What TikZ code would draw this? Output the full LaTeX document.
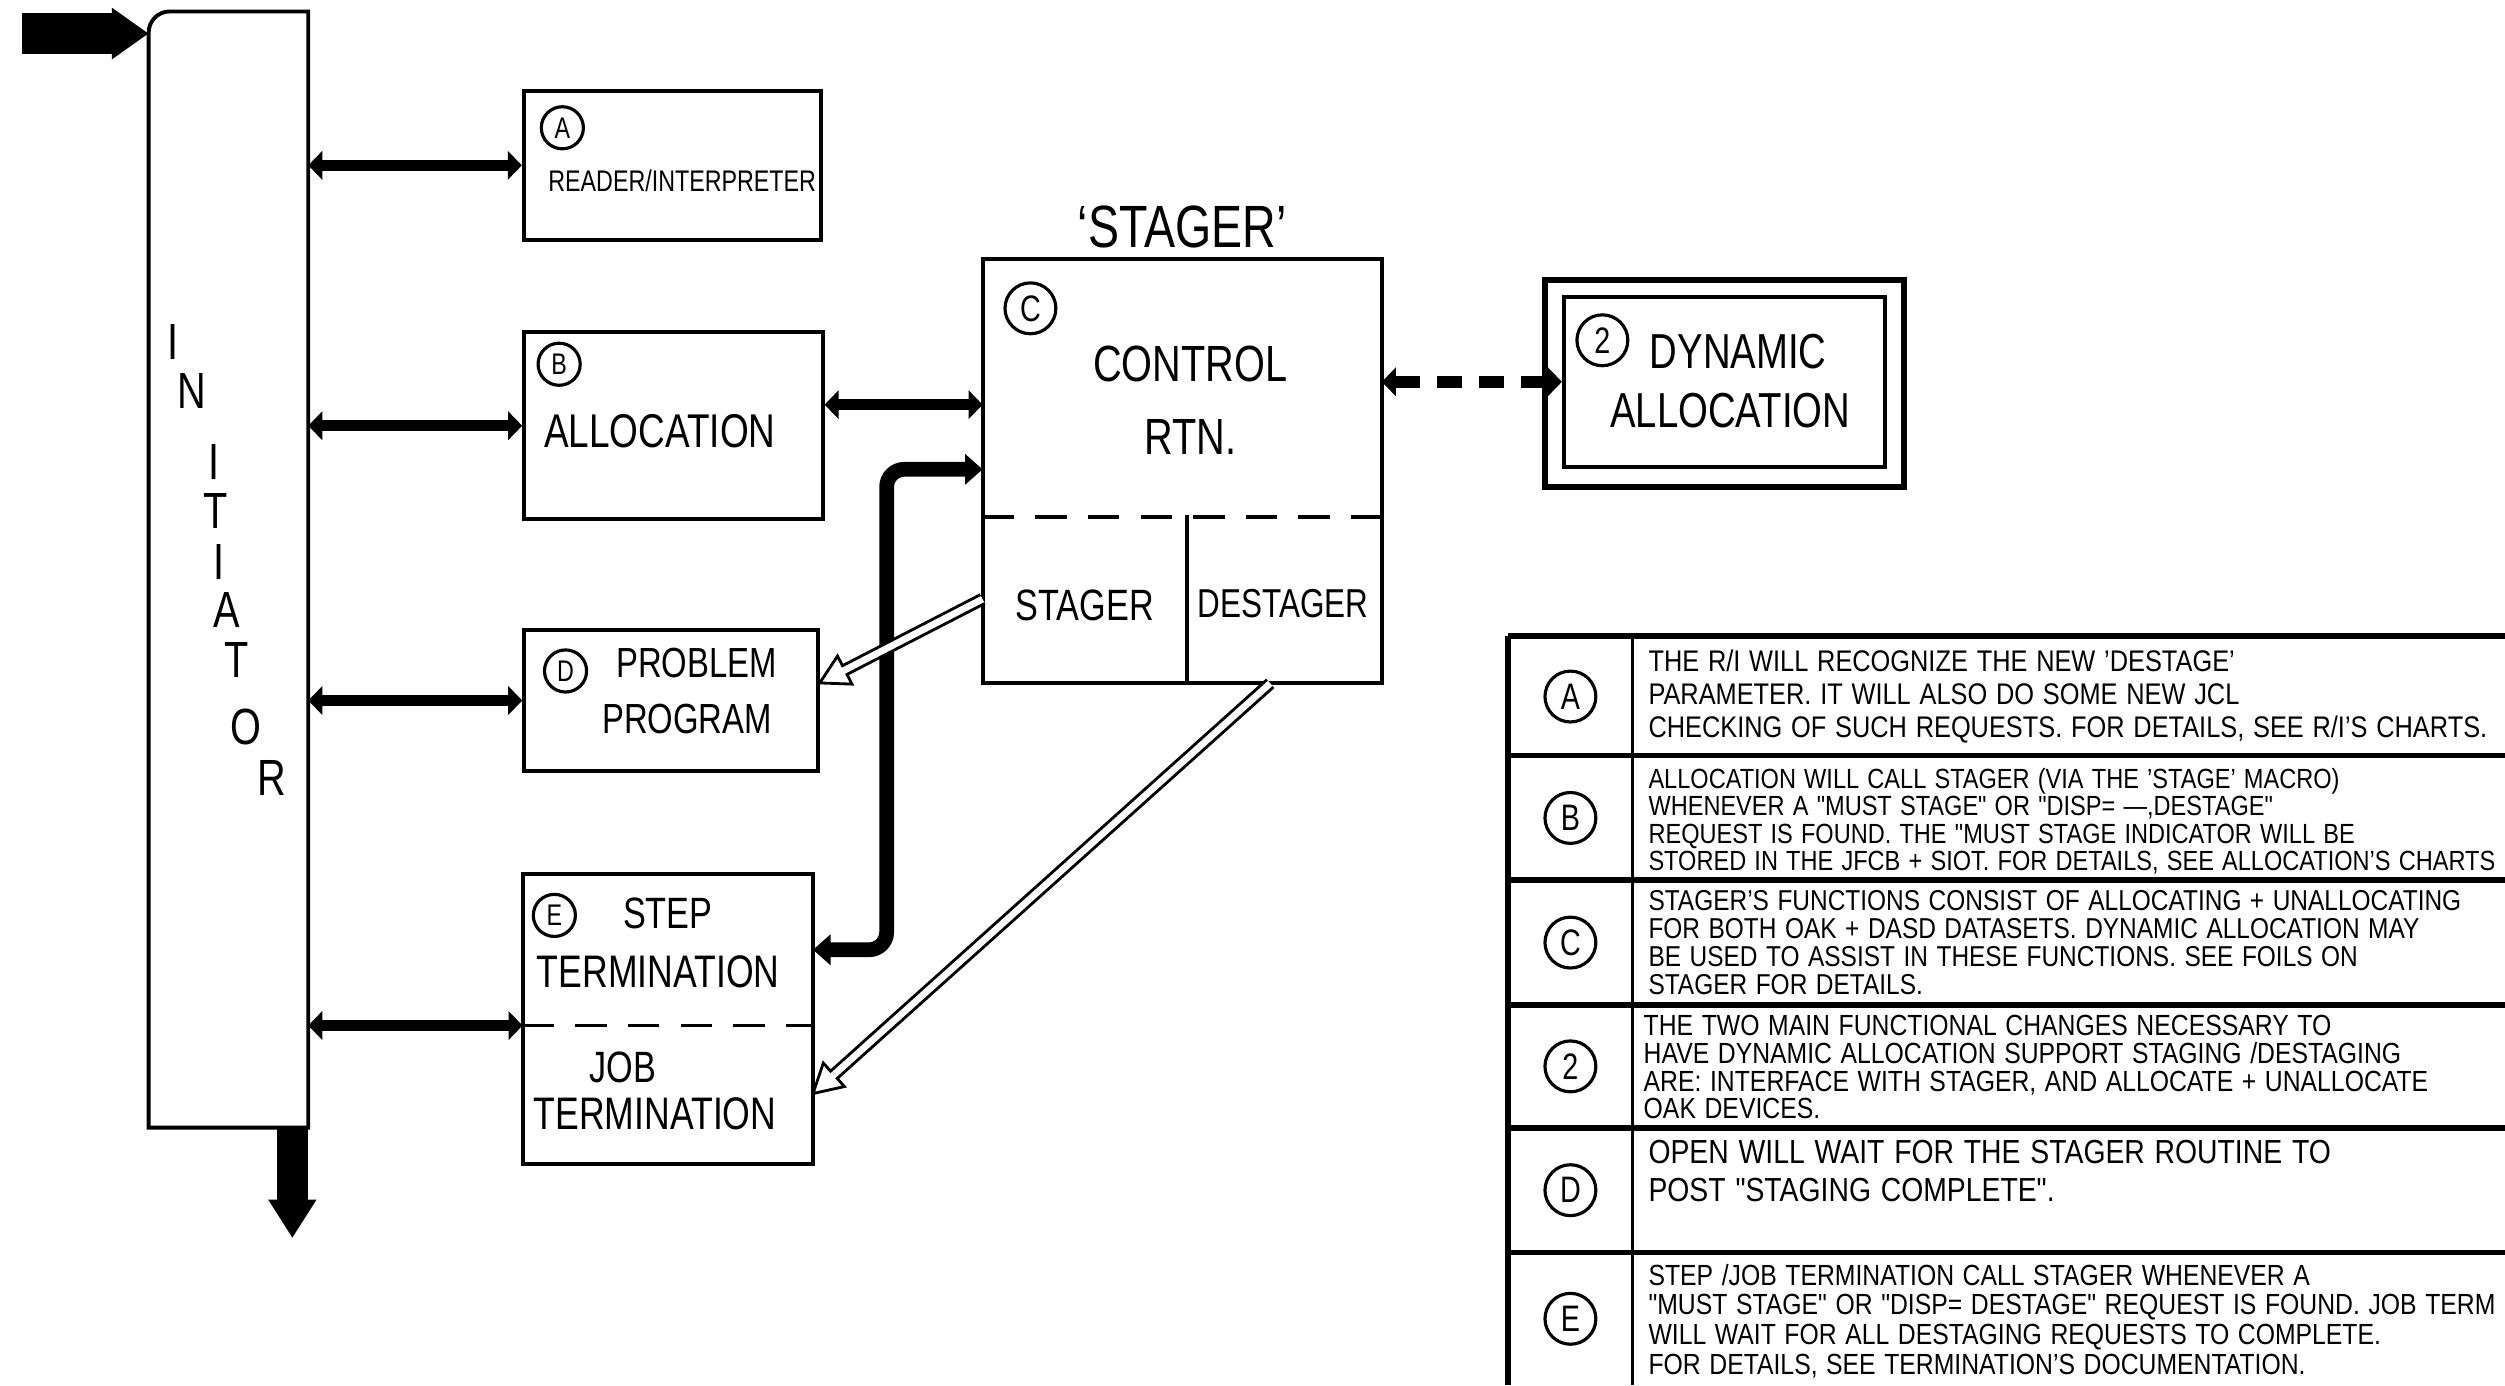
\documentclass[tikz,border=0pt]{standalone}
\usepackage{fontspec}
\usepackage{tikz}
\usetikzlibrary{arrows,arrows.meta,calc,positioning}
\newfontfamily\hand[FakeStretch=0.78]{Liberation Sans}
\newfontfamily\notes[FakeStretch=0.85,WordSpace=1.25]{Liberation Sans}
\tikzset{
    %Define standard arrow tip
    >={Triangle[length=4pt,width=8pt]},
    %Define style for boxes
    box/.style={
           rectangle,
           draw=black, line width=1.1pt,
           inner sep=0pt},
    part/.style={
           rectangle,
           inner sep=0pt},
    tag/.style={
           circle,
           draw=black, line width=0.9pt,
           inner sep=0pt,
           minimum size=12pt,
           font=\hand\fontsize{8.5}{9}\selectfont},
    bigtag/.style={
           tag,
           minimum size=14.5pt,
           font=\hand\fontsize{10.5}{11}\selectfont},
    lbl/.style={
           inner sep=0pt,
           font=\hand\fontsize{#1}{#1}\selectfont},
    note/.style={
           anchor=west,
           align=left,
           inner sep=0pt,
           font=\notes\fontsize#1\selectfont},
    % Define arrow styles
    link/.style={<->, line width=3.2pt},
    dlink/.style={<->, line width=3.4pt, dash pattern=on 7pt off 5pt},
    pipe/.style={<->, >={Triangle[length=5pt,width=8.5pt]},
           line width=4.2pt, rounded corners=5pt},
    feed/.style={-{Triangle[length=10.5pt,width=14pt]}, line width=11.8pt},
    drain/.style={-{Triangle[length=11pt,width=13pt]}, line width=9pt},
    hollow/.style={draw=black, line width=0.8pt, fill=white},
    rule/.style={line width=1.6pt}
}
% open arrow made of two lines, from #1 to #2
\newcommand{\hollowarrow}[2]{%
  \draw[hollow] let \p1=($(#2)-(#1)$), \n1={atan2(\y1,\x1)}, \n2={veclen(\x1,\y1)} in
    [shift={(#1)}, rotate=\n1]
    (0pt,-1.4pt) -- (\n2-8pt,-1.4pt) -- (\n2-8pt,-4.5pt) -- (\n2,0pt)
    -- (\n2-8pt,4.5pt) -- (\n2-8pt,1.4pt) -- (0pt,1.4pt);}

\begin{document}
\begin{tikzpicture}[x=0.16mm, y=-0.16mm, thick]
\useasboundingbox (0,0) rectangle (1568,867);

% initiator column
\node[part, minimum width=15.7mm, minimum height=111.5mm] (init) at (143,356.5) {};
\draw[line width=1.1pt] (init.south west) -- ([yshift=-6pt]init.north west)
    arc[start angle=180, end angle=90, radius=6pt] -- (init.north east)
    -- (init.south east) -- cycle;
\foreach \ch/\x/\y [count=\i] in {I/108/214,N/120/245,I/134/289,T/135/320,
    I/137/352,A/142/382,T/148/413,O/154/455,R/170/487}
  \node[lbl=14.5] (ltr\i) at (\x,\y) {\ch};
\coordinate (in) at (14,21);
\coordinate (out) at (183,775);
\draw[feed] (in) -- (in -| init.west);
\draw[drain] (out |- init.south) -- (out);

% boxes
\node[box, minimum width=29.8mm, minimum height=14.9mm] (A) at (421,103.5) {};
\node[tag] (tA) at (352,80) {A};
\node[lbl=8.5] (ri) at (427,113) {READER/INTERPRETER};

\node[box, minimum width=29.9mm, minimum height=18.7mm] (B) at (421.5,266.5) {};
\node[tag] (tB) at (350,228) {B};
\node[lbl=13.5] (alc) at (413,270) {ALLOCATION};

\node[part, minimum width=39.7mm, minimum height=25.6mm] (ctl) at (740,243) {};
\node[part, minimum width=20.2mm, minimum height=16.6mm] (stg) at (679,375) {};
\node[part, minimum width=19.5mm, minimum height=16.6mm] (dst) at (803,375) {};
\draw[line width=1.1pt] (ctl.north west) rectangle (dst.south east);
\draw[line width=1.1pt, dash pattern=on 9pt off 6pt] (ctl.south west) -- (ctl.south east);
\draw[line width=1.1pt] (stg.north east) -- (stg.south east);
\node[lbl=17, above=1mm of ctl] (title) {‘STAGER’};
\node[bigtag] (tC) at (645,193) {C};
\node[lbl=14.5] (ctl1) at (745,228) {CONTROL};
\node[lbl=14.5, below=3.4mm of ctl1] (ctl2) {RTN.};
\node[lbl=12.5] (stg1) at (679,379) {STAGER};
\node[lbl=11.5] (dst1) at (803,378) {DESTAGER};

\node[box, line width=1.7pt, minimum width=36mm, minimum height=20.8mm] (da) at (1079.5,240) {};
\node[box, minimum width=32.2mm, minimum height=17mm] (dai) at (1079.5,239) {};
\node[bigtag] (t2) at (1003,213) {2};
\node[lbl=14] (dyn) at (1088,220) {DYNAMIC};
\node[lbl=14] (dyn2) at (1083,257) {ALLOCATION};

\node[box, minimum width=29.4mm, minimum height=14.2mm] (D) at (420,438.5) {};
\node[tag] (tD) at (354,420) {D};
\node[lbl=12] (pp1) at (436,415) {PROBLEM};
\node[lbl=12] (pp2) at (430,450) {PROGRAM};

\node[part, minimum width=28.8mm, minimum height=14.9mm] (step) at (418,594.5) {};
\node[part, minimum width=28.8mm, minimum height=13.9mm] (job) at (418,684.5) {};
\draw[line width=1.1pt] (step.north west) rectangle (job.south east);
\draw[line width=1.1pt, dash pattern=on 9pt off 6pt] (step.south west) -- (step.south east);
\node[tag] (tE) at (347,573) {E};
\node[lbl=12.5] (st1) at (418,572) {STEP};
\node[lbl=13] (st2) at (412,608) {TERMINATION};
\node[lbl=12.5] (jb1) at (390,668) {JOB};
\node[lbl=13] (jb2) at (410,697) {TERMINATION};

% connectors
\path[link] (init.east |- A.west) edge (A.west)
    (init.east |- B.west) edge (B.west)
    (init.east |- D.west) edge (D.west)
    (init.east |- step.south west) edge (step.south west);
\draw[link] ([yshift=6pt]B.east) -- ([yshift=6pt]B.east -| ctl.west);
\coordinate (bend) at (555,0);
\draw[pipe] (step.east) -- (step.east -| bend) |- ([yshift=13.7pt]ctl.south west);
\draw[dlink] (ctl.east |- dai.west) -- (dai.west);
\hollowarrow{stg.west}{[yshift=5pt]D.east}
\hollowarrow{[xshift=-3.6pt]dst.south}{job.east}

% notes table
\foreach \y in {398,473,551,629,706,784}
  \draw[rule] (944,\y) -- (1568,\y);
\draw[rule] (944,398) -- (944,867);
\draw[line width=1pt] (1022,398) -- (1022,867);
\node[bigtag] (nA) at (983,436) {A};
\node[bigtag] (nB) at (983,512) {B};
\node[bigtag] (nC) at (983,590) {C};
\node[bigtag] (n2) at (983,667.5) {2};
\node[bigtag] (nD) at (983,745) {D};
\node[bigtag] (nE) at (983,825.5) {E};
\node[note={{8.5}{9.3}}] (xA) at (1031,436) {THE R/I WILL RECOGNIZE THE NEW ’DESTAGE’\\
    PARAMETER. IT WILL ALSO DO SOME NEW JCL\\
    CHECKING OF SUCH REQUESTS. FOR DETAILS, SEE R/I’S CHARTS.};
\node[note={{7.9}{7.8}}] (xB) at (1031,514) {ALLOCATION WILL CALL STAGER (VIA THE ’STAGE’ MACRO)\\
    WHENEVER A "MUST STAGE" OR "DISP= —,DESTAGE"\\
    REQUEST IS FOUND. THE "MUST STAGE INDICATOR WILL BE\\
    STORED IN THE JFCB + SIOT. FOR DETAILS, SEE ALLOCATION’S CHARTS};
\node[note={{8.2}{7.9}}] (xC) at (1031,590) {STAGER’S FUNCTIONS CONSIST OF ALLOCATING + UNALLOCATING\\
    FOR BOTH OAK + DASD DATASETS. DYNAMIC ALLOCATION MAY\\
    BE USED TO ASSIST IN THESE FUNCTIONS. SEE FOILS ON\\
    STAGER FOR DETAILS.};
\node[note={{8.3}{7.9}}] (x2) at (1028,668) {THE TWO MAIN FUNCTIONAL CHANGES NECESSARY TO\\
    HAVE DYNAMIC ALLOCATION SUPPORT STAGING /DESTAGING\\
    ARE: INTERFACE WITH STAGER, AND ALLOCATE + UNALLOCATE\\
    OAK DEVICES.};
\node[note={{9.5}{11}}] (xD) at (1031,733) {OPEN WILL WAIT FOR THE STAGER ROUTINE TO\\
    POST "STAGING COMPLETE".};
\node[note={{8.3}{8.5}}] (xE) at (1031,827) {STEP /JOB TERMINATION CALL STAGER WHENEVER A\\
    "MUST STAGE" OR "DISP= DESTAGE" REQUEST IS FOUND. JOB TERM\\
    WILL WAIT FOR ALL DESTAGING REQUESTS TO COMPLETE.\\
    FOR DETAILS, SEE TERMINATION’S DOCUMENTATION.};
\end{tikzpicture}
\end{document}
